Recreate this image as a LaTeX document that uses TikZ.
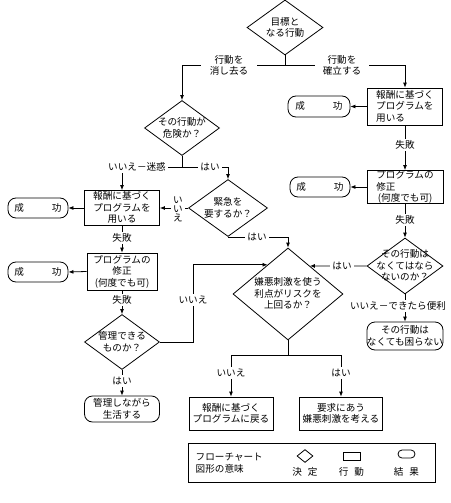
\documentclass[tikz,border=0pt]{standalone}
\usepackage{fontspec}
\setmainfont{Noto Sans CJK JP}
\usepackage{tikz}
\usetikzlibrary{shapes.geometric,arrows.meta}

\newcommand\ml[2][c]{\raisebox{-3.5pt}{\makebox[0pt]{\begin{tabular}{@{}#1@{}}#2\end{tabular}}}}

\begin{document}
\begin{tikzpicture}[x=1pt,y=-1pt,line width=0.8pt,>={Latex[length=5pt,width=4pt]},
    font=\fontsize{9.6}{11.5}\selectfont,
    decision/.style={diamond,draw,inner sep=0pt,text height=0pt,text depth=0pt},
    action/.style={rectangle,draw,inner sep=0pt,text height=0pt,text depth=0pt},
    result/.style={rectangle,draw,rounded corners=8pt,inner sep=0pt,text height=0pt,text depth=0pt},
    lbl/.style={fill=white,inner xsep=2pt,inner ysep=2pt,align=center}]
        \useasboundingbox (0,0) rectangle (450,503);
        % shapes
        \node[decision,minimum width=76pt,minimum height=55pt] (goal) at (285,27.5) {\ml{目標と\\なる行動}};
        \node[decision,minimum width=75pt,minimum height=55pt] (danger) at (182,128) {\ml{その行動が\\危険か？}};
        \node[action,minimum width=75pt,minimum height=37pt] (reward1) at (405,106.5) {\ml[l]{報酬に基づく\\プログラムを\\用いる}};
        \node[result,minimum width=62pt,minimum height=21pt] (success1) at (319,106.5) {\ml{成\hspace{28pt}功}};
        \node[action,minimum width=76pt,minimum height=33pt] (fix1) at (405,187) {\ml[l]{プログラムの\\修正\\\,(何度でも可)}};
        \node[result,minimum width=60pt,minimum height=20pt] (success2) at (320,187) {\ml{成\hspace{28pt}功}};
        \node[decision,minimum width=76pt,minimum height=56pt] (must) at (405,266) {\ml{その行動は\\なくてはなら\\ないのか？}};
        \node[result,minimum width=76pt,minimum height=28pt] (notneed) at (405,336) {\ml{その行動は\\なくても困らない}};
        \node[decision,minimum width=79pt,minimum height=57pt] (urgent) at (228,208) {\ml{緊急を\\要するか？}};
        \node[action,minimum width=75pt,minimum height=35pt] (reward2) at (122,208) {\ml{報酬に基づく\\プログラムを\\用いる}};
        \node[result,minimum width=60pt,minimum height=20pt] (success3) at (38,208) {\ml{成\hspace{28pt}功}};
        \node[action,minimum width=70pt,minimum height=37pt] (fix2) at (122,271.5) {\ml{プログラムの\\修正\\(何度でも可)}};
        \node[result,minimum width=60pt,minimum height=20pt] (success4) at (38,272) {\ml{成\hspace{28pt}功}};
        \node[decision,minimum width=75pt,minimum height=55pt] (manage) at (122,342) {\ml{管理できる\\ものか？}};
        \node[result,minimum width=75pt,minimum height=26pt] (live) at (122,409) {\ml{管理しながら\\生活する}};
        \node[decision,minimum width=110pt,minimum height=92pt] (benefit) at (288,294) {\ml{嫌悪刺激を使う\\利点がリスクを\\上回るか？}};
        \node[action,minimum width=84pt,minimum height=33pt] (back) at (231,413.5) {\ml{報酬に基づく\\プログラムに戻る}};
        \node[action,minimum width=83pt,minimum height=33pt] (aversive) at (341,413.5) {\ml{要求にあう\\嫌悪刺激を考える}};
        \coordinate (split) at (285,65);
        \coordinate (split2) at (182,167);
        \coordinate (split3) at (288,355);
        % connectors
        \draw (goal.south) -- (split);
        \draw[->] (split) -| (danger.north);
        \draw[->] (split) -| (reward1.north);
        \draw[->] (reward1.west) -- (success1.east);
        \draw[->] (reward1.south) -- (fix1.north);
        \draw[->] (fix1.west) -- (success2.east);
        \draw[->] (fix1.south) -- (must.north);
        \draw[->] (must.west) -- (benefit.52);
        \draw[->] (must.south) -- (notneed.north);
        \draw (danger.south) -- (split2);
        \draw[->] (split2) -| (reward2.north);
        \draw[->] (split2) -| (urgent.north);
        \draw[->] (urgent.west) -- (reward2.east);
        \draw[->] (urgent.south) -| (benefit.north);
        \draw[->] (reward2.west) -- (success3.east);
        \draw[->] (reward2.south) -- (fix2.north);
        \draw[->] (fix2.west) -- (success4.east);
        \draw[->] (fix2.south) -- (manage.north);
        \draw[->] (manage.south) -- (live.north);
        \draw[->] (manage.east) -- ++(33,0) |- (benefit.125);
        \draw (benefit.south) -- (split3);
        \draw[->] (split3) -| (back.north);
        \draw[->] (split3) -| (aversive.north);
        % labels
        \node[lbl,inner xsep=9pt] (erase) at (229,65.5) {行動を\\消し去る};
        \node[lbl,inner xsep=8pt] (establish) at (342,65.5) {行動を\\確立する};
        \node[lbl] (fail1) at (405,145) {失敗};
        \node[lbl] (fail2) at (405,220) {失敗};
        \node[lbl] (yes1) at (342,266) {はい};
        \node[lbl] (noconv) at (398,306) {いいえ－できたら便利};
        \node[lbl] (nonuis) at (137,167) {いいえ－迷惑};
        \node[lbl] (yes2) at (210,167) {はい};
        \node[lbl,font=\fontsize{9.6}{9}\selectfont] (no1) at (178,209) {い\\い\\え};
        \node[lbl] (yes3) at (257,237) {はい};
        \node[lbl] (fail3) at (122,238) {失敗};
        \node[lbl] (fail4) at (122,300) {失敗};
        \node[lbl] (yes4) at (122,381) {はい};
        \node[lbl] (no2) at (193,300) {いいえ};
        \node[lbl] (no3) at (231,373) {いいえ};
        \node[lbl] (yes5) at (341,373) {はい};
        % legend
        \node[draw,rectangle,minimum width=247pt,minimum height=39pt] (legend) at (311.5,462.5) {};
        \node[anchor=west,align=left] (legtitle) at (192,463) {フローチャート\\図形の意味};
        \node[decision,minimum width=16pt,minimum height=13pt] (symdec) at (305,456) {};
        \node[action,minimum width=17pt,minimum height=8pt] (symact) at (351.5,456) {};
        \node[result,rounded corners=4pt,minimum width=17pt,minimum height=8pt] (symres) at (406.5,454) {};
        \node (legdec) at (305,472) {決\hspace{6pt}定};
        \node (legact) at (351.5,472) {行\hspace{6pt}動};
        \node (legres) at (406.5,472) {結\hspace{6pt}果};
\end{tikzpicture}
\end{document}
